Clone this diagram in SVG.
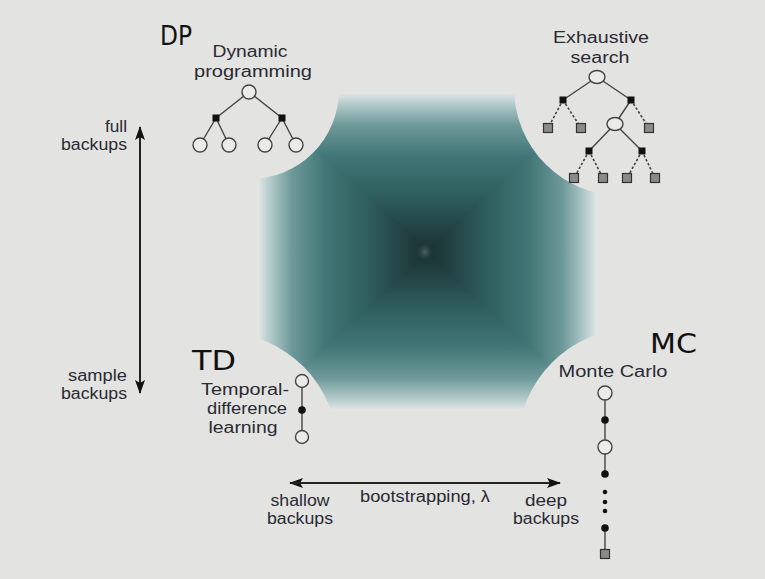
<svg xmlns="http://www.w3.org/2000/svg" width="765" height="579" viewBox="0 0 765 579">
<style>
  .lbl { font-family: "Liberation Sans", Arial, sans-serif; font-size: 16px; fill: #2a2a33; }
  .hand { font-family: "DejaVu Sans", sans-serif; font-size: 26px; fill: #111; }
  .edge { stroke: #444; stroke-width: 1.4; fill: none; }
  .dash { stroke: #444; stroke-width: 1.6; fill: none; stroke-dasharray: 2.5 2; }
  .st { fill: #ebebe9; stroke: #444; stroke-width: 1.4; }
  .act { fill: #111; }
  .term { fill: #8a8a8a; stroke: #333; stroke-width: 1.2; }
  .corner { fill: #e3e3e1; }
  .axis { stroke: #222; stroke-width: 2; fill: none; }
</style>
<defs>
  <linearGradient id="gTop" gradientUnits="userSpaceOnUse" x1="0" y1="93" x2="0" y2="252">
    <stop offset="0" stop-color="#e3e6e5"/>
    <stop offset="0.06" stop-color="#b9cfcf"/>
    <stop offset="0.2" stop-color="#6f9999"/>
    <stop offset="0.4" stop-color="#417676"/>
    <stop offset="0.65" stop-color="#2f5e5e"/>
    <stop offset="0.88" stop-color="#223f40"/>
    <stop offset="1" stop-color="#1b3031"/>
  </linearGradient>
  <linearGradient id="gBot" gradientUnits="userSpaceOnUse" x1="0" y1="410" x2="0" y2="252">
    <stop offset="0" stop-color="#e3e6e5"/>
    <stop offset="0.06" stop-color="#b9cfcf"/>
    <stop offset="0.2" stop-color="#6f9999"/>
    <stop offset="0.4" stop-color="#417676"/>
    <stop offset="0.65" stop-color="#2f5e5e"/>
    <stop offset="0.88" stop-color="#223f40"/>
    <stop offset="1" stop-color="#1b3031"/>
  </linearGradient>
  <linearGradient id="gLeft" gradientUnits="userSpaceOnUse" x1="258" y1="0" x2="427" y2="0">
    <stop offset="0" stop-color="#e3e6e5"/>
    <stop offset="0.06" stop-color="#b9cfcf"/>
    <stop offset="0.2" stop-color="#6f9999"/>
    <stop offset="0.4" stop-color="#417676"/>
    <stop offset="0.65" stop-color="#2f5e5e"/>
    <stop offset="0.88" stop-color="#223f40"/>
    <stop offset="1" stop-color="#1b3031"/>
  </linearGradient>
  <linearGradient id="gRight" gradientUnits="userSpaceOnUse" x1="597" y1="0" x2="427" y2="0">
    <stop offset="0" stop-color="#e3e6e5"/>
    <stop offset="0.06" stop-color="#b9cfcf"/>
    <stop offset="0.2" stop-color="#6f9999"/>
    <stop offset="0.4" stop-color="#417676"/>
    <stop offset="0.65" stop-color="#2f5e5e"/>
    <stop offset="0.88" stop-color="#223f40"/>
    <stop offset="1" stop-color="#1b3031"/>
  </linearGradient>
  <radialGradient id="gSpot" cx="425" cy="252" r="10" gradientUnits="userSpaceOnUse">
    <stop offset="0" stop-color="#5a8080" stop-opacity="0.7"/>
    <stop offset="1" stop-color="#1b3031" stop-opacity="0"/>
  </radialGradient>
  <marker id="ah" viewBox="0 0 14 10" refX="13" refY="5" markerWidth="14" markerHeight="10" markerUnits="userSpaceOnUse" orient="auto-start-reverse">
    <path d="M0,0 L14,5 L0,10 L3,5 Z" fill="#111"/>
  </marker>
</defs>

<rect x="0" y="0" width="765" height="579" fill="#e3e3e1"/>

<g id="space">
  <polygon points="258,93 597,93 427,251" fill="url(#gTop)" stroke="url(#gTop)" stroke-width="1.5" stroke-linejoin="round"/>
  <polygon points="258,410 597,410 427,251" fill="url(#gBot)" stroke="url(#gBot)" stroke-width="1.5" stroke-linejoin="round"/>
  <polygon points="258,93 258,410 427,251" fill="url(#gLeft)" stroke="url(#gLeft)" stroke-width="1.5" stroke-linejoin="round"/>
  <polygon points="597,93 597,410 427,251" fill="url(#gRight)" stroke="url(#gRight)" stroke-width="1.5" stroke-linejoin="round"/>
  <circle cx="425" cy="252" r="10" fill="url(#gSpot)"/>
  <circle class="corner" cx="250" cy="90" r="89"/>
  <circle class="corner" cx="622" cy="88" r="108"/>
  <circle class="corner" cx="220" cy="450" r="118"/>
  <circle class="corner" cx="635" cy="445" r="117"/>
</g>

<g id="connectors">
  <line class="axis" x1="140" y1="380" x2="140" y2="127" marker-end="url(#ah)"/>
  <line class="axis" x1="140" y1="140" x2="140" y2="393" marker-end="url(#ah)"/>
  <line class="axis" x1="300" y1="483" x2="290" y2="483" marker-end="url(#ah)"/>
  <line class="axis" x1="292" y1="483" x2="560" y2="483" marker-end="url(#ah)"/>
</g>

<g id="dp">
  <text class="hand" x="160" y="45" textLength="32" lengthAdjust="spacingAndGlyphs">DP</text>
  <text class="lbl" x="250" y="57" text-anchor="middle" textLength="75" lengthAdjust="spacingAndGlyphs">Dynamic</text>
  <text class="lbl" x="253" y="77" text-anchor="middle" textLength="118" lengthAdjust="spacingAndGlyphs">programming</text>
  <path class="edge" d="M249,92 L216,118 M249,92 L282,118 M216,118 L200,145 M216,118 L229,145 M282,118 L265,145 M282,118 L296,145"/>
  <circle class="st" cx="249" cy="92" r="7"/>
  <rect class="act" x="212.5" y="114.5" width="7" height="7"/>
  <rect class="act" x="278.5" y="114.5" width="7" height="7"/>
  <circle class="st" cx="200" cy="145" r="7"/>
  <circle class="st" cx="229" cy="145" r="7"/>
  <circle class="st" cx="265" cy="145" r="7"/>
  <circle class="st" cx="296" cy="145" r="7"/>
</g>

<g id="exhaustive">
  <text class="lbl" x="601" y="43" text-anchor="middle" textLength="96" lengthAdjust="spacingAndGlyphs">Exhaustive</text>
  <text class="lbl" x="600" y="63" text-anchor="middle" textLength="59" lengthAdjust="spacingAndGlyphs">search</text>
  <path class="edge" d="M597,77 L563,100 M597,77 L631,100 M631,100 L615,124 M615,124 L589,151 M615,124 L642,151"/>
  <path class="dash" d="M563,100 L548,128 M563,100 L581,128 M631,100 L649,128 M589,151 L574,178 M589,151 L603,178 M642,151 L627,178 M642,151 L655,178"/>
  <ellipse class="st" cx="597" cy="77" rx="8" ry="6.5"/>
  <ellipse class="st" cx="615" cy="124" rx="8" ry="6.5"/>
  <rect class="act" x="559.5" y="96.5" width="7" height="7"/>
  <rect class="act" x="627.5" y="96.5" width="7" height="7"/>
  <rect class="act" x="585.5" y="147.5" width="7" height="7"/>
  <rect class="act" x="638.5" y="147.5" width="7" height="7"/>
  <rect class="term" x="543.5" y="123.5" width="9" height="9"/>
  <rect class="term" x="576.5" y="123.5" width="9" height="9"/>
  <rect class="term" x="644.5" y="123.5" width="9" height="9"/>
  <rect class="term" x="569.5" y="173.5" width="9" height="9"/>
  <rect class="term" x="598.5" y="173.5" width="9" height="9"/>
  <rect class="term" x="622.5" y="173.5" width="9" height="9"/>
  <rect class="term" x="650.5" y="173.5" width="9" height="9"/>
</g>

<g id="td">
  <text class="hand" x="192" y="370" textLength="44" lengthAdjust="spacingAndGlyphs">TD</text>
  <text class="lbl" x="245" y="395" text-anchor="middle" textLength="88" lengthAdjust="spacingAndGlyphs">Temporal-</text>
  <text class="lbl" x="247" y="414" text-anchor="middle" textLength="80" lengthAdjust="spacingAndGlyphs">difference</text>
  <text class="lbl" x="243" y="433" text-anchor="middle" textLength="69" lengthAdjust="spacingAndGlyphs">learning</text>
  <line class="edge" x1="302" y1="381" x2="302" y2="437"/>
  <circle class="st" cx="302" cy="381" r="6.5"/>
  <circle class="act" cx="302" cy="410" r="3.8"/>
  <circle class="st" cx="302" cy="437" r="6.5"/>
</g>

<g id="mc">
  <text class="hand" x="650" y="353" textLength="47" lengthAdjust="spacingAndGlyphs">MC</text>
  <text class="lbl" x="613" y="377" text-anchor="middle" textLength="109" lengthAdjust="spacingAndGlyphs">Monte Carlo</text>
  <line class="edge" x1="605" y1="393" x2="605" y2="474"/>
  <line class="edge" x1="605" y1="528" x2="605" y2="554"/>
  <circle class="st" cx="605" cy="393" r="7"/>
  <circle class="act" cx="605" cy="420" r="3.8"/>
  <circle class="st" cx="605" cy="447" r="7"/>
  <circle class="act" cx="605" cy="474" r="3.8"/>
  <circle class="act" cx="605" cy="492" r="2.3"/>
  <circle class="act" cx="605" cy="502" r="2.3"/>
  <circle class="act" cx="605" cy="511" r="2.3"/>
  <circle class="act" cx="605" cy="528" r="3.8"/>
  <rect class="term" x="600.5" y="549.5" width="9" height="9"/>
</g>

<g id="axis-labels">
  <text class="lbl" x="127" y="132" text-anchor="end" textLength="22" lengthAdjust="spacingAndGlyphs">full</text>
  <text class="lbl" x="127" y="150" text-anchor="end" textLength="66" lengthAdjust="spacingAndGlyphs">backups</text>
  <text class="lbl" x="127" y="381" text-anchor="end" textLength="59" lengthAdjust="spacingAndGlyphs">sample</text>
  <text class="lbl" x="127" y="399" text-anchor="end" textLength="66" lengthAdjust="spacingAndGlyphs">backups</text>
  <text class="lbl" x="425" y="502" text-anchor="middle" textLength="130" lengthAdjust="spacingAndGlyphs">bootstrapping, λ</text>
  <text class="lbl" x="300" y="506" text-anchor="middle" textLength="59" lengthAdjust="spacingAndGlyphs">shallow</text>
  <text class="lbl" x="300" y="524" text-anchor="middle" textLength="66" lengthAdjust="spacingAndGlyphs">backups</text>
  <text class="lbl" x="546" y="506" text-anchor="middle" textLength="42" lengthAdjust="spacingAndGlyphs">deep</text>
  <text class="lbl" x="546" y="524" text-anchor="middle" textLength="66" lengthAdjust="spacingAndGlyphs">backups</text>
</g>
</svg>
